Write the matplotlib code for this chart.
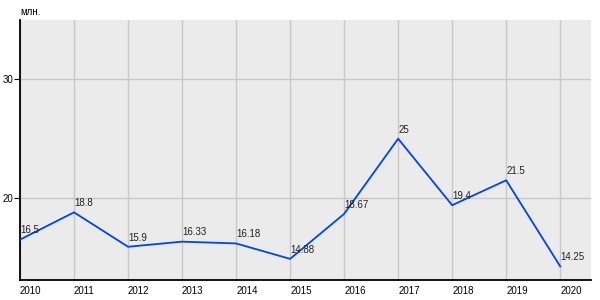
import matplotlib
matplotlib.use('Agg')
import matplotlib.pyplot as plt
from matplotlib.ticker import MultipleLocator

years = [2010, 2011, 2012, 2013, 2014, 2015, 2016, 2017, 2018, 2019, 2020]
values = [16.5, 18.8, 15.9, 16.33, 16.18, 14.88, 18.67, 25, 19.4, 21.5, 14.25]
labels = ['16.5', '18.8', '15.9', '16.33', '16.18', '14.88', '18.67', '25', '19.4', '21.5', '14.25']

plt.rcParams['font.family'] = ['Liberation Sans', 'DejaVu Sans']

fig = plt.figure(figsize=(6, 3), dpi=100)
ax = fig.add_axes([20/600, 20/300, 571/600, 260/300])
ax.set_facecolor('#ebebeb')

ax.plot(years, values, color='#0044ee', linewidth=1.3, zorder=3)
for x, y, t in zip(years, values, labels):
    ax.annotate(t, (x, y), xytext=(0, 3), textcoords='offset points',
                ha='left', va='bottom', fontsize=7, color='#222222', zorder=4)

ax.set_xlim(2010, 2020.57)
ax.set_ylim(13.1, 35)
ax.set_xticks(years)
ax.yaxis.set_major_locator(MultipleLocator(10))
ax.grid(True, color='#c8c8c8', linewidth=1)
ax.set_axisbelow(True)

for s in ['top', 'right']:
    ax.spines[s].set_visible(False)
ax.spines['left'].set_linewidth(1.3)
ax.spines['bottom'].set_linewidth(1.3)
ax.tick_params(axis='x', length=0, labelsize=7, pad=4)
ax.tick_params(axis='y', length=4, labelsize=7, pad=1)
for lbl in ax.get_xticklabels():
    lbl.set_horizontalalignment('left')

fig.text(20/600, 1 - 12/300, 'млн.', fontsize=7, ha='left', va='center')

plt.savefig('out.png', dpi=100)
